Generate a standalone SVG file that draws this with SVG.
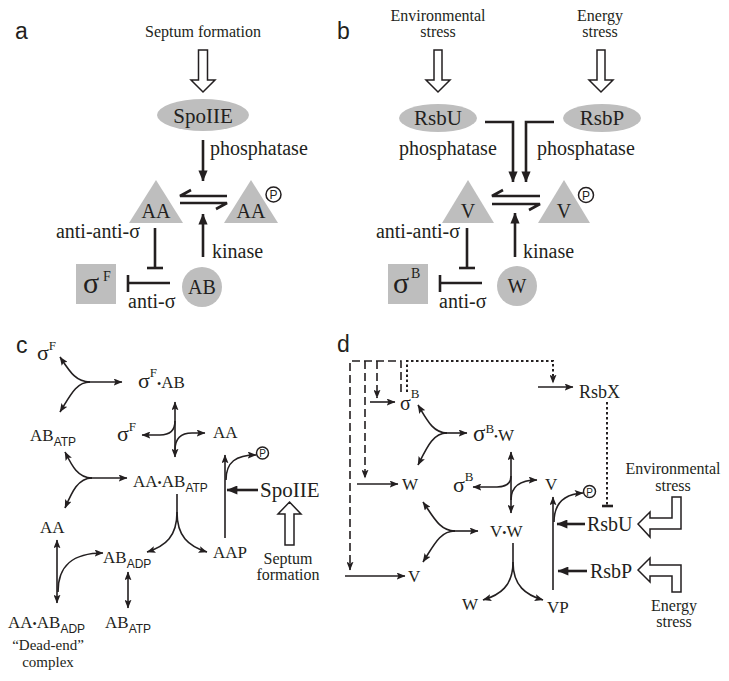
<svg xmlns="http://www.w3.org/2000/svg" width="729" height="681" viewBox="0 0 729 681">
<defs>
<style>
.t{font-family:"Liberation Serif","Times New Roman",serif;fill:#231f20}
.sans{font-family:"Liberation Sans",Arial,sans-serif;fill:#231f20}
.lbl{font-family:"Liberation Sans",Arial,sans-serif;font-size:23px;fill:#231f20}
.ln{stroke:#231f20;fill:none;stroke-width:1.6}
.thk{stroke:#231f20;fill:none;stroke-width:2.6}
.dash{stroke:#231f20;fill:none;stroke-width:1.6;stroke-dasharray:8 4}
.dot{stroke:#231f20;fill:none;stroke-width:2;stroke-dasharray:2.5 2.5}
.gray{fill:#bebebe}
.hollow{fill:#fff;stroke:#231f20;stroke-width:1.5}
.pc{fill:#fff;stroke:#231f20;stroke-width:1.5}
</style>
<marker id="sm" viewBox="0 0 10 8" refX="9.5" refY="4" markerWidth="9" markerHeight="7" markerUnits="userSpaceOnUse" orient="auto-start-reverse"><path d="M0,0 L10,4 L0,8 L2,4 z" fill="#231f20"/></marker>
<marker id="big" viewBox="0 0 12 10" refX="11.5" refY="5" markerWidth="11" markerHeight="10" markerUnits="userSpaceOnUse" orient="auto"><path d="M0,0 L12,5 L0,10 z" fill="#231f20"/></marker>
<marker id="mid" viewBox="0 0 12 10" refX="11.5" refY="5" markerWidth="12" markerHeight="9" markerUnits="userSpaceOnUse" orient="auto"><path d="M0,0 L12,5 L0,10 z" fill="#231f20"/></marker>
</defs>
<rect width="729" height="681" fill="#fff"/>

<!-- Panel labels -->
<text class="lbl" x="15" y="39">a</text>
<text class="lbl" x="337" y="39">b</text>
<text class="lbl" x="16" y="353">c</text>
<text class="lbl" x="337" y="352">d</text>

<!-- ===== Panel a ===== -->
<g id="a-septum"><text class="t" x="203" y="37" font-size="16" text-anchor="middle">Septum formation</text>
<polygon class="hollow" points="198.5,50 207.5,50 207.5,80 215,80 203,92 191,80 198.5,80"/></g>
<g id="a-spoiie"><ellipse class="gray" cx="203" cy="115" rx="46" ry="16"/><text class="t" x="203" y="123" font-size="21" text-anchor="middle">SpoIIE</text></g>
<g id="a-aa"><polygon class="gray" points="156,180 183,223 129,223"/><text class="t" x="156" y="218" font-size="20" text-anchor="middle">AA</text></g>
<g id="a-aap"><polygon class="gray" points="251,180 278,223 224,223"/><text class="t" x="251" y="218" font-size="20" text-anchor="middle">AA</text>
<circle class="pc" cx="273.5" cy="194.5" r="7.5"/><text class="sans" x="273.5" y="199" font-size="12" text-anchor="middle">P</text></g>
<g id="a-sigma"><rect class="gray" x="76" y="264" width="40" height="40"/><text class="t" x="83" y="293" font-size="30">σ</text><text class="t" x="103" y="281" font-size="14">F</text></g>
<g id="a-ab"><circle class="gray" cx="202" cy="287" r="20"/><text class="t" x="202" y="294" font-size="20" text-anchor="middle">AB</text></g>
<g id="a-connectors">
<line class="thk" x1="203" y1="140" x2="203" y2="181" marker-end="url(#big)"/>
<text class="t" x="210" y="155" font-size="20">phosphatase</text>
<path class="thk" d="M227,196 L180,196 L191,190"/>
<path class="thk" d="M180,203 L227,203 L216,209"/>
<line class="thk" x1="203" y1="257" x2="203" y2="214" marker-end="url(#big)"/>
<text class="t" x="212" y="258" font-size="20">kinase</text>
<line class="thk" x1="155" y1="228" x2="155" y2="268"/><line class="thk" x1="147" y1="268" x2="163" y2="268"/>
<text class="t" x="140" y="238" font-size="20" text-anchor="end">anti-anti-σ</text>
<line class="thk" x1="170" y1="283" x2="128" y2="283"/><line class="thk" x1="128" y1="275" x2="128" y2="292"/>
<text class="t" x="128" y="308" font-size="20">anti-σ</text>
</g>

<!-- ===== Panel b ===== -->
<g id="b-env"><text class="t" x="438" y="21" font-size="16" text-anchor="middle">Environmental</text><text class="t" x="438" y="37" font-size="16" text-anchor="middle">stress</text>
<polygon class="hollow" points="434,50 442,50 442,80 450,80 438,92 426,80 434,80"/></g>
<g id="b-energy"><text class="t" x="600" y="21" font-size="16" text-anchor="middle">Energy</text><text class="t" x="600" y="37" font-size="16" text-anchor="middle">stress</text>
<polygon class="hollow" points="597,50 605,50 605,80 613,80 601,92 589,80 597,80"/></g>
<g id="b-rsbu"><ellipse class="gray" cx="438" cy="118" rx="39" ry="14"/><text class="t" x="438" y="125" font-size="21" text-anchor="middle">RsbU</text></g>
<g id="b-rsbp"><ellipse class="gray" cx="602" cy="118" rx="39" ry="14"/><text class="t" x="602" y="125" font-size="21" text-anchor="middle">RsbP</text></g>
<g id="b-v"><polygon class="gray" points="468,180 494,223 442,223"/><text class="t" x="468" y="218" font-size="20" text-anchor="middle">V</text></g>
<g id="b-vp"><polygon class="gray" points="564,180 590,223 538,223"/><text class="t" x="564" y="218" font-size="20" text-anchor="middle">V</text>
<circle class="pc" cx="586" cy="195" r="7.5"/><text class="sans" x="586" y="199.5" font-size="12" text-anchor="middle">P</text></g>
<g id="b-sigma"><rect class="gray" x="388" y="264" width="40" height="40"/><text class="t" x="393" y="293" font-size="30">σ</text><text class="t" x="411" y="278" font-size="14">B</text></g>
<g id="b-w"><circle class="gray" cx="517" cy="286" r="20"/><text class="t" x="517" y="293" font-size="20" text-anchor="middle">W</text></g>
<g id="b-connectors">
<path class="thk" d="M485,122 L513,122 L513,182" marker-end="url(#big)"/>
<path class="thk" d="M554,122 L526,122 L526,182" marker-end="url(#big)"/>
<text class="t" x="399" y="155" font-size="20">phosphatase</text>
<text class="t" x="537" y="155" font-size="20">phosphatase</text>
<path class="thk" d="M540,196 L492,196 L503,190"/>
<path class="thk" d="M492,204 L540,204 L529,210"/>
<line class="thk" x1="515" y1="257" x2="515" y2="213" marker-end="url(#big)"/>
<text class="t" x="523" y="258" font-size="20">kinase</text>
<line class="thk" x1="467" y1="228" x2="467" y2="268"/><line class="thk" x1="459" y1="268" x2="475" y2="268"/>
<text class="t" x="460" y="238" font-size="20" text-anchor="end">anti-anti-σ</text>
<line class="thk" x1="482" y1="283" x2="440" y2="283"/><line class="thk" x1="440" y1="275" x2="440" y2="292"/>
<text class="t" x="439" y="308" font-size="20">anti-σ</text>
</g>

<!-- ===== Panel c ===== -->
<g id="c-sigF1"><text class="t" x="37" y="360" font-size="22">σ<tspan font-size="13" dy="-10">F</tspan></text></g>
<g id="c-sigFAB"><text class="t" x="138" y="388" font-size="22">σ<tspan font-size="13" dy="-11">F</tspan><tspan font-size="12" dy="11">•</tspan><tspan font-size="17">AB</tspan></text></g>
<g id="c-abatp1"><text class="t" x="30" y="441" font-size="17">AB<tspan class="sans" font-size="12" dy="5">ATP</tspan></text></g>
<g id="c-sigF2"><text class="t" x="117" y="441" font-size="22">σ<tspan font-size="13" dy="-10">F</tspan></text></g>
<g id="c-aa1"><text class="t" x="213" y="438" font-size="17">AA</text></g>
<g id="c-aaabatp"><text class="t" x="133" y="487" font-size="17">AA<tspan font-size="12">•</tspan>AB<tspan class="sans" font-size="12" dy="5">ATP</tspan></text></g>
<g id="c-p"><circle class="pc" cx="262.5" cy="453" r="6"/><text class="sans" x="262.5" y="457" font-size="10" text-anchor="middle">P</text></g>
<g id="c-spoiie"><text class="t" x="260" y="497" font-size="21">SpoIIE</text></g>
<g id="c-septum"><polygon class="hollow" points="289.5,502 301,514 294,514 294,545 285,545 285,514 278,514"/>
<text class="t" x="288" y="564" font-size="16" text-anchor="middle">Septum</text><text class="t" x="288" y="580" font-size="16" text-anchor="middle">formation</text></g>
<g id="c-aa2"><text class="t" x="40" y="533" font-size="17">AA</text></g>
<g id="c-aap"><text class="t" x="213" y="558" font-size="17">AAP</text></g>
<g id="c-abadp"><text class="t" x="103" y="563" font-size="17">AB<tspan class="sans" font-size="12" dy="5">ADP</tspan></text></g>
<g id="c-deadend"><text class="t" x="8" y="628" font-size="17">AA<tspan font-size="12">•</tspan>AB<tspan class="sans" font-size="12" dy="5">ADP</tspan></text>
<text class="t" x="48" y="650" font-size="15" text-anchor="middle">“Dead-end”</text><text class="t" x="48" y="667" font-size="15" text-anchor="middle">complex</text></g>
<g id="c-abatp2"><text class="t" x="105" y="628" font-size="17">AB<tspan class="sans" font-size="12" dy="5">ATP</tspan></text></g>
<g id="c-connectors">
<line class="ln" x1="88" y1="382" x2="122" y2="382" marker-end="url(#sm)"/>
<path class="ln" d="M90,382 C76,382 70,372 60,357" marker-end="url(#sm)"/>
<path class="ln" d="M90,382 C76,382 70,396 60,412" marker-end="url(#sm)"/>
<line class="ln" x1="175" y1="402" x2="175" y2="457" marker-start="url(#sm)" marker-end="url(#sm)"/>
<path class="ln" d="M175,421 C175,431 170,435 160,435 L142,435" marker-end="url(#sm)"/>
<path class="ln" d="M175,450 C175,439 180,433 192,433 L205,433" marker-end="url(#sm)"/>
<line class="ln" x1="90" y1="478" x2="127" y2="478" marker-end="url(#sm)"/>
<path class="ln" d="M92,478 C78,478 72,466 65,452" marker-end="url(#sm)"/>
<path class="ln" d="M92,478 C78,478 72,492 65,508" marker-end="url(#sm)"/>
<path class="ln" d="M177,494 L177,512 C177,536 166,546 147,552" marker-end="url(#sm)"/>
<path class="ln" d="M177,512 C177,536 188,546 207,552" marker-end="url(#sm)"/>
<line class="ln" x1="225" y1="538" x2="225" y2="455" marker-end="url(#sm)"/>
<path class="ln" d="M226,480 C226,462 236,455 256,455" marker-end="url(#sm)"/>
<line class="thk" x1="258" y1="490" x2="227" y2="490" marker-end="url(#mid)"/>
<line class="ln" x1="57" y1="540" x2="57" y2="603" marker-start="url(#sm)" marker-end="url(#sm)"/>
<path class="ln" d="M58,592 C58,566 72,553 103,553" marker-end="url(#sm)"/>
<line class="ln" x1="128" y1="572" x2="128" y2="608" marker-start="url(#sm)" marker-end="url(#sm)"/>
</g>

<!-- ===== Panel d ===== -->
<g id="d-sigB1"><text class="t" x="400" y="410" font-size="20">σ<tspan font-size="13" dy="-12">B</tspan></text></g>
<g id="d-W1"><text class="t" x="402" y="490" font-size="17">W</text></g>
<g id="d-V1"><text class="t" x="408" y="582" font-size="17">V</text></g>
<g id="d-rsbx"><text class="t" x="579" y="398" font-size="18">RsbX</text></g>
<g id="d-sigBW"><text class="t" x="473" y="441" font-size="23">σ<tspan font-size="13" dy="-8">B</tspan><tspan font-size="11" dy="7">•</tspan><tspan font-size="17" dy="1">W</tspan></text></g>
<g id="d-sigB2"><text class="t" x="453" y="492" font-size="22">σ<tspan font-size="13" dy="-11">B</tspan></text></g>
<g id="d-V2"><text class="t" x="545" y="490" font-size="17">V</text></g>
<g id="d-p"><circle class="pc" cx="589.5" cy="491.5" r="6"/><text class="sans" x="589.5" y="495.5" font-size="10" text-anchor="middle">P</text></g>
<g id="d-VW"><text class="t" x="490" y="537" font-size="17">V<tspan font-size="12">•</tspan>W</text></g>
<g id="d-rsbu"><text class="t" x="587" y="531" font-size="20">RsbU</text></g>
<g id="d-rsbp"><text class="t" x="590" y="578" font-size="20">RsbP</text></g>
<g id="d-env"><text class="t" x="673" y="474" font-size="16" text-anchor="middle">Environmental</text><text class="t" x="673" y="491" font-size="16" text-anchor="middle">stress</text>
<polygon class="hollow" points="638,524 650,512 650,518 672,518 672,497 681,497 681,529 650,529 650,537"/></g>
<g id="d-energy"><polygon class="hollow" points="638,570 650,558 650,565 681,565 681,592 672,592 672,576 650,576 650,582"/>
<text class="t" x="674" y="611" font-size="16" text-anchor="middle">Energy</text><text class="t" x="674" y="627" font-size="16" text-anchor="middle">stress</text></g>
<g id="d-W2"><text class="t" x="462" y="610" font-size="17">W</text></g>
<g id="d-VP"><text class="t" x="547" y="613" font-size="17">VP</text></g>
<g id="d-connectors">
<path class="dash" d="M401,392 L401,361 L350,361 L350,570" marker-end="url(#sm)"/>
<line class="dash" x1="365" y1="361" x2="365" y2="478" marker-end="url(#sm)"/>
<line class="dash" x1="377" y1="361" x2="377" y2="398" marker-end="url(#sm)"/>
<line class="ln" x1="345" y1="576" x2="405" y2="576" marker-end="url(#sm)"/>
<line class="ln" x1="357" y1="484" x2="398" y2="484" marker-end="url(#sm)"/>
<line class="ln" x1="370" y1="402" x2="395" y2="402" marker-end="url(#sm)"/>
<path class="dot" d="M407,392 L407,361 L553,361 L553,383" marker-end="url(#sm)"/>
<line class="ln" x1="538" y1="387" x2="573" y2="387" marker-end="url(#sm)"/>
<line class="dot" x1="607" y1="402" x2="607" y2="506"/><line class="thk" x1="602" y1="506" x2="613" y2="506" stroke-width="2"/>
<line class="ln" x1="445" y1="433" x2="467" y2="433" marker-end="url(#sm)"/>
<path class="ln" d="M447,433 C433,433 427,420 418,405" marker-end="url(#sm)"/>
<path class="ln" d="M447,433 C433,433 427,447 418,465" marker-end="url(#sm)"/>
<line class="ln" x1="511" y1="452" x2="511" y2="513" marker-start="url(#sm)" marker-end="url(#sm)"/>
<path class="ln" d="M511,476 C511,484 506,487 497,487 L473,487" marker-end="url(#sm)"/>
<path class="ln" d="M511,500 C511,488 518,480 537,480" marker-end="url(#sm)"/>
<line class="ln" x1="553" y1="590" x2="553" y2="497" marker-end="url(#sm)"/>
<path class="ln" d="M554,522 C554,502 565,494 583,493" marker-end="url(#sm)"/>
<line class="thk" x1="585" y1="524" x2="557" y2="524" marker-end="url(#mid)"/>
<line class="thk" x1="587" y1="571" x2="558" y2="571" marker-end="url(#mid)"/>
<line class="ln" x1="453" y1="531" x2="478" y2="531" marker-end="url(#sm)"/>
<path class="ln" d="M455,531 C440,531 434,518 423,502" marker-end="url(#sm)"/>
<path class="ln" d="M455,531 C440,531 434,545 423,562" marker-end="url(#sm)"/>
<path class="ln" d="M513,543 L513,562 C513,586 500,595 483,600" marker-end="url(#sm)"/>
<path class="ln" d="M513,562 C513,586 526,595 543,600" marker-end="url(#sm)"/>
</g>
</svg>
